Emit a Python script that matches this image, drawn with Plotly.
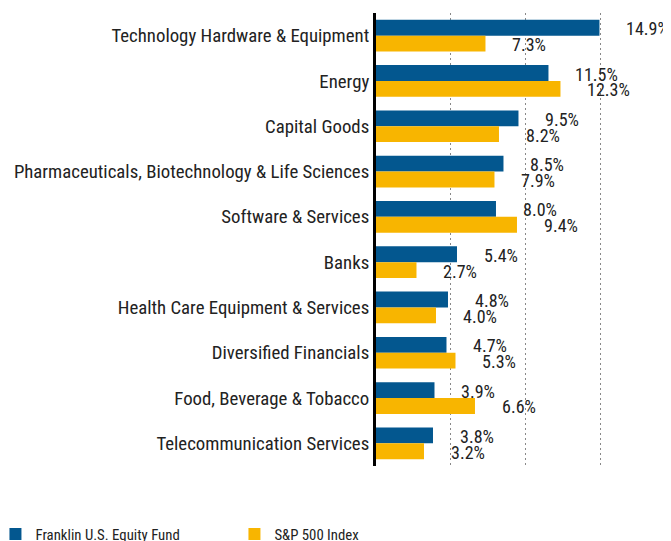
import plotly.graph_objects as go

# sector weights (%)
sectors = [
    "Technology Hardware & Equipment",
    "Energy",
    "Capital Goods",
    "Pharmaceuticals, Biotechnology & Life Sciences",
    "Software & Services",
    "Banks",
    "Health Care Equipment & Services",
    "Diversified Financials",
    "Food, Beverage & Tobacco",
    "Telecommunication Services",
]
fund = [14.9, 11.5, 9.5, 8.5, 8.0, 5.4, 4.8, 4.7, 3.9, 3.8]
index = [7.3, 12.3, 8.2, 7.9, 9.4, 2.7, 4.0, 5.3, 6.6, 3.2]

BLUE = "#03578f"
GOLD = "#f8b500"
FONT = "Roboto Condensed, Roboto, sans-serif"

fig = go.Figure()
fig.add_trace(go.Bar(y=sectors, x=fund, orientation="h", name="Franklin U.S. Equity Fund",
                     marker=dict(color=BLUE, line=dict(width=0))))
fig.add_trace(go.Bar(y=sectors, x=index, orientation="h", name="S&P 500 Index",
                     marker=dict(color=GOLD, line=dict(width=0))))

# value labels, sitting a little right of each bar end
half = 0.175
for i, (f, s) in enumerate(zip(fund, index)):
    fig.add_annotation(x=f, y=i - half, text=f"{f:.1f}%", showarrow=False,
                       xanchor="left", yanchor="middle", xshift=25, yshift=-1,
                       font=dict(size=18, color="#222"))
    fig.add_annotation(x=s, y=i + half, text=f"{s:.1f}%", showarrow=False,
                       xanchor="left", yanchor="middle", xshift=25, yshift=-1,
                       font=dict(size=18, color="#222"))

# page body adds a small margin, so the figure is sized to fill the rest of the window
fig.update_layout(
    width=663, height=533,
    margin=dict(l=368, r=0, t=5, b=75, autoexpand=False),
    barmode="group", bargap=0.3, bargroupgap=0,
    plot_bgcolor="white", paper_bgcolor="white",
    font=dict(family=FONT, color="#222"),
    legend=dict(orientation="h", x=-1.29, y=-0.151, xanchor="left", yanchor="middle",
                entrywidth=194, entrywidthmode="pixels",
                font=dict(size=14.8), traceorder="normal"),
    showlegend=True,
)
fig.update_xaxes(range=[0, 19.67], showticklabels=False, showgrid=True,
                 tickvals=[5, 10, 15], gridcolor="#888", griddash="2px,3px", gridwidth=1,
                 zeroline=False, showline=False)
fig.update_yaxes(autorange="reversed", showline=True, linecolor="black", linewidth=3,
                 ticks="", tickfont=dict(size=18.8), ticklabelstandoff=0,
                 showgrid=False, automargin=False)

fig.write_html("out.html")
